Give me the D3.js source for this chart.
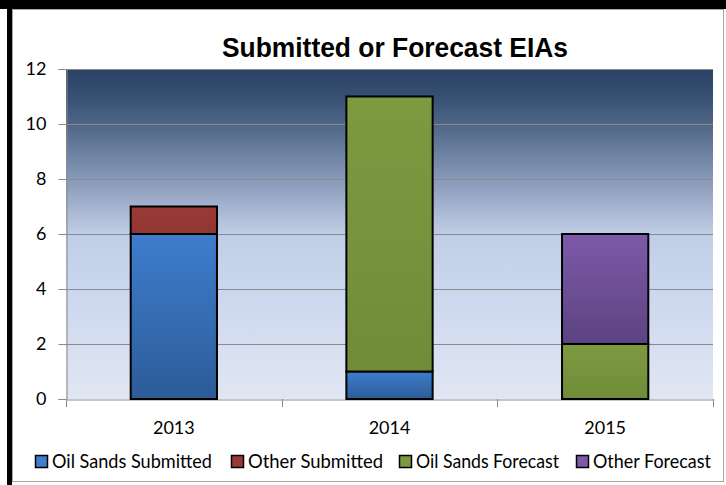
<!DOCTYPE html>
<html>
<head>
<meta charset="utf-8">
<script src="https://cdn.jsdelivr.net/npm/d3@7"></script>
<style>
  body { margin: 0; background: #fff; }
  svg { display: block; }
</style>
</head>
<body>
<div id="chart"></div>
<script>
// data
const categories = ["2013", "2014", "2015"];
const seriesNames = ["Oil Sands Submitted", "Other Submitted", "Oil Sands Forecast", "Other Forecast"];
const oilSandsSubmitted = [6, 1, 0];
const otherSubmitted = [1, 0, 0];
const oilSandsForecast = [0, 10, 2];
const otherForecast = [0, 0, 4];
const yTicks = [0, 2, 4, 6, 8, 10, 12];

const W = 726, H = 485;
const plot = {left: 66, right: 713, top: 69, bottom: 399};

const svg = d3.select("#chart").append("svg")
    .attr("width", W)
    .attr("height", H);

const defs = svg.append("defs");

// plot background gradient
const bg = defs.append("linearGradient")
    .attr("id", "bgGrad").attr("x1", 0).attr("y1", 0).attr("x2", 0).attr("y2", 1);
[[0, "#2a4365"], [0.08, "#364f72"], [0.17, "#4f6687"], [0.33, "#8698b7"], [0.5, "#c0cde6"],
 [0.67, "#cbd7ee"], [0.83, "#d6def0"], [1, "#e0e6f3"]]
    .forEach(s => bg.append("stop").attr("offset", s[0]).attr("stop-color", s[1]));

// bar gradients
const barColors = [
    ["#3f7dcd", "#2c5c98"],
    ["#9a3a37", "#923533"],
    ["#7d9a40", "#718c39"],
    ["#7d5aa9", "#5c4380"]
];
barColors.forEach((c, i) => {
    const g = defs.append("linearGradient")
        .attr("id", "barGrad" + i).attr("x1", 0).attr("y1", 0).attr("x2", 0).attr("y2", 1);
    g.append("stop").attr("offset", 0).attr("stop-color", c[0]);
    g.append("stop").attr("offset", 1).attr("stop-color", c[1]);
});

// frame
svg.append("rect").attr("x", 0).attr("y", 0).attr("width", W).attr("height", H).attr("fill", "#fff");
svg.append("rect").attr("x", 12.5).attr("y", 9.5).attr("width", 711).attr("height", 472)
    .attr("fill", "#fff").attr("stroke", "#a6a6a6").attr("stroke-width", 1);
svg.append("rect").attr("x", 0).attr("y", 0).attr("width", W).attr("height", 9).attr("fill", "#000");
svg.append("rect").attr("x", 7).attr("y", 0).attr("width", 5).attr("height", H).attr("fill", "#000");

// title
svg.append("text")
    .attr("x", 222).attr("y", 57)
    .attr("font-family", "Liberation Sans, Arial, sans-serif")
    .attr("font-weight", "bold")
    .attr("font-size", 27)
    .attr("textLength", 346)
    .attr("lengthAdjust", "spacingAndGlyphs")
    .text("Submitted or Forecast EIAs");

// scales
const x = d3.scaleBand().domain(categories).range([plot.left, plot.right]);
const y = d3.scaleLinear().domain([0, 12]).range([plot.bottom, plot.top]);
const barW = x.bandwidth() * 0.4;

// background
svg.append("rect")
    .attr("x", plot.left).attr("y", plot.top)
    .attr("width", plot.right - plot.left).attr("height", plot.bottom - plot.top)
    .attr("fill", "url(#bgGrad)");

// gridlines
svg.append("g").selectAll("line")
    .data(yTicks.filter(d => d > 0))
    .join("line")
    .attr("x1", plot.left).attr("x2", plot.right)
    .attr("y1", d => Math.round(y(d)) + 0.5).attr("y2", d => Math.round(y(d)) + 0.5)
    .attr("stroke", "#8a8a8a").attr("stroke-width", 1);

// y axis
const yAxis = svg.append("g")
    .attr("transform", `translate(${plot.left + 0.5},0)`)
    .call(d3.axisLeft(y).tickValues(yTicks).tickSize(8).tickPadding(12));
yAxis.select(".domain").attr("stroke", "#8a8a8a");
yAxis.selectAll(".tick line").attr("stroke", "#8a8a8a");
yAxis.selectAll(".tick text")
    .attr("font-family", "Lato, Open Sans, sans-serif")
    .attr("font-size", 18)
    .attr("fill", "#000");

// x axis
const xAxis = svg.append("g")
    .attr("transform", `translate(0,${plot.bottom + 0.5})`)
    .call(d3.axisBottom(x).tickSize(0).tickPadding(22));
xAxis.select(".domain").attr("stroke", "#8a8a8a");
xAxis.selectAll(".tick text")
    .attr("font-family", "Lato, Open Sans, sans-serif")
    .attr("font-size", 18)
    .attr("fill", "#000");
// category dividers
svg.append("g").selectAll("line")
    .data([...categories.map(c => x(c)), plot.right])
    .join("line")
    .attr("x1", d => Math.round(d) + 0.5).attr("x2", d => Math.round(d) + 0.5)
    .attr("y1", plot.bottom).attr("y2", plot.bottom + 8)
    .attr("stroke", "#8a8a8a");

// stacked bars
const table = categories.map((c, i) => ({
    cat: c,
    "Oil Sands Submitted": oilSandsSubmitted[i],
    "Other Submitted": otherSubmitted[i],
    "Oil Sands Forecast": oilSandsForecast[i],
    "Other Forecast": otherForecast[i]
}));
const stacked = d3.stack().keys(seriesNames)(table);

const barsG = svg.append("g");
stacked.forEach((layer, si) => {
    barsG.selectAll(null)
        .data(layer.filter(d => d[1] - d[0] > 0))
        .join("rect")
        .attr("x", d => x(d.data.cat) + (x.bandwidth() - barW) / 2)
        .attr("y", d => y(d[1]))
        .attr("width", barW)
        .attr("height", d => y(d[0]) - y(d[1]))
        .attr("fill", `url(#barGrad${si})`)
        .attr("stroke", "#000")
        .attr("stroke-width", 2);
});

// legend
const legendX = [35, 231, 399, 576];
const legendTextW = [160, 135, 143, 118];
const legend = svg.append("g");
seriesNames.forEach((name, i) => {
    legend.append("rect")
        .attr("x", legendX[i] + 0.5).attr("y", 455.5)
        .attr("width", 12).attr("height", 12)
        .attr("fill", barColors[i][0])
        .attr("stroke", "#000").attr("stroke-width", 1.5);
    legend.append("text")
        .attr("x", legendX[i] + 17).attr("y", 468)
        .attr("font-family", "Lato, Open Sans, sans-serif")
        .attr("font-size", 19)
        .attr("textLength", legendTextW[i])
        .attr("lengthAdjust", "spacingAndGlyphs")
        .text(name);
});
</script>
</body>
</html>
